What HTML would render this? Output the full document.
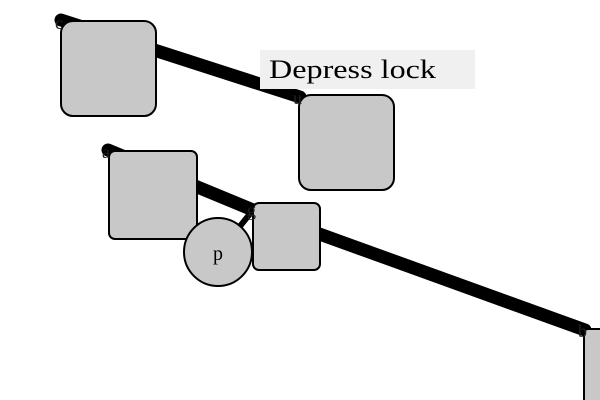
<!DOCTYPE html>
<html><head><meta charset="utf-8"><style>
body{margin:0;background:#fff}
svg{display:block}
</style></head><body>
<svg width="600" height="400" viewBox="0 0 600 400">
<g stroke="#000" stroke-linecap="round" fill="none">
<line x1="61" y1="20" x2="300" y2="97" stroke-width="13"/>
<line x1="108" y1="150" x2="253" y2="210" stroke-width="13"/>
<line x1="253" y1="210" x2="585" y2="330" stroke-width="13"/>
<line x1="253" y1="210" x2="225" y2="245" stroke-width="6"/>
</g>
<g fill="#c8c8c8" stroke="#000" stroke-width="2">
<rect x="61" y="21" width="95" height="95" rx="12"/>
<rect x="299" y="95" width="95" height="95" rx="12"/>
<rect x="109" y="151" width="88" height="88" rx="6"/>
<rect x="253" y="203" width="67" height="67" rx="6"/>
<circle cx="218" cy="252" r="34"/>
<rect x="584" y="329" width="40" height="80" rx="4"/>
</g>
<g font-family="Liberation Serif, serif" fill="#222">
<text x="218" y="260" text-anchor="middle" font-size="20" fill="#000">p</text>
<text x="55" y="29" font-size="18">c</text>
<text x="293" y="104" font-size="18">u</text>
<text x="102" y="158" font-size="18">a</text>
<text x="247" y="216" font-size="18">g</text>
<text x="578" y="337" font-size="18">b</text>
</g>
<rect x="260" y="50" width="215" height="39" fill="#f0f0f0"/>
<text x="269" y="78" font-family="Liberation Serif, serif" font-size="26" textLength="167" lengthAdjust="spacingAndGlyphs" fill="#000">Depress lock</text>
</svg>
</body></html>
